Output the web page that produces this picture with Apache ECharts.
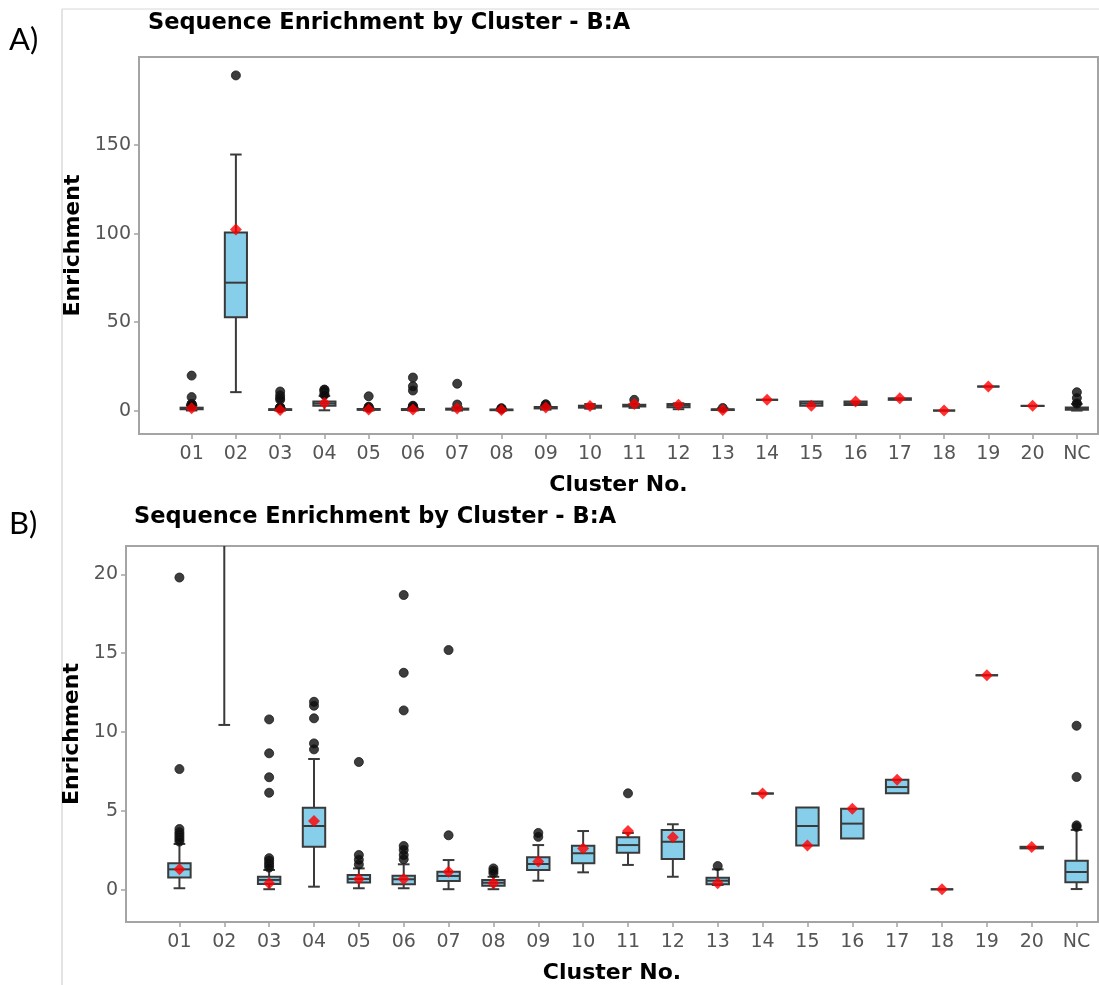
<!DOCTYPE html>
<html><head><meta charset="utf-8">
<script src="https://cdn.jsdelivr.net/npm/echarts@6/dist/echarts.min.js"></script>
<style>html,body{margin:0;padding:0;background:#fff}#c{width:1099px;height:985px}</style>
</head><body><div id="c"></div>
<script>
// ---- data ----
const categories = ['01','02','03','04','05','06','07','08','09','10','11','12','13','14','15','16','17','18','19','20','NC'];
const whiskerLow  = [0.09, 10.45, 0.03, 0.19, 0.09, 0.09, 0.03, 0.03, 0.57, 1.10, 1.57, 0.82, 0.30, 6.10, 2.81, 3.24, 6.11, 0.02, 13.6, 2.62, 0.04];
const q1          = [0.78, 52.8, 0.36, 2.73, 0.45, 0.34, 0.55, 0.25, 1.25, 1.67, 2.35, 1.95, 0.34, 6.10, 2.81, 3.24, 6.11, 0.02, 13.6, 2.62, 0.47];
const median      = [1.29, 72.3, 0.62, 4.04, 0.68, 0.66, 0.87, 0.44, 1.63, 2.31, 2.83, 3.04, 0.57, 6.10, 4.04, 4.19, 6.51, 0.02, 13.6, 2.66, 1.12];
const q3          = [1.67, 100.7, 0.82, 5.20, 0.93, 0.89, 1.14, 0.62, 2.05, 2.79, 3.32, 3.79, 0.76, 6.10, 5.22, 5.14, 6.98, 0.02, 13.6, 2.72, 1.84];
const whiskerHigh = [2.90, 144.7, 1.25, 8.29, 1.35, 1.61, 1.88, 0.82, 2.83, 3.72, 3.60, 4.15, 1.29, 6.10, 5.22, 5.14, 6.98, 0.02, 13.6, 2.72, 3.79];
const means       = [1.30, 102.3, 0.41, 4.36, 0.68, 0.68, 1.14, 0.41, 1.78, 2.62, 3.72, 3.32, 0.41, 6.10, 2.81, 5.14, 6.98, 0.02, 13.6, 2.70, null];
const outliers = [
  [19.8, 7.65, 3.85, 3.65, 3.5, 3.35, 3.2, 3.05],
  [189.4],
  [10.8, 8.65, 7.13, 6.15, 2.0, 1.85, 1.7, 1.55, 1.4],
  [11.92, 11.67, 10.87, 9.28, 8.9],
  [8.1, 2.2, 1.9, 1.6],
  [18.69, 13.76, 11.37, 2.77, 2.52, 2.2, 1.93],
  [15.2, 3.45],
  [1.35, 1.2, 1.05],
  [3.6, 3.35],
  [],
  [6.11],
  [],
  [1.5],
  [], [], [], [], [], [], [],
  [10.4, 7.15, 4.08, 3.98]
];
const yTicksA = [0, 50, 100, 150];
const yTicksB = [0, 5, 10, 15, 20];
const titleText = 'Sequence Enrichment by Cluster - B:A';
const xName = 'Cluster No.';
const yName = 'Enrichment';

// ---- build ----
const FONT = 'DejaVu Sans';
const FRAME = '#a4a4a4';
const INK = '#3a3a3a';

const boxData = categories.map((c, i) => [i, whiskerLow[i], q1[i], median[i], q3[i], whiskerHigh[i]]);
const outlierData = [];
outliers.forEach((arr, i) => arr.forEach(v => outlierData.push([i, v])));
const meanData = [];
means.forEach((m, i) => { if (m != null) meanData.push([i, m]); });

function renderBox(params, api) {
  const i = api.value(0);
  const lo = api.value(1), a = api.value(2), md = api.value(3), b = api.value(4), hi = api.value(5);
  const band = api.size([1, 0])[0];
  const half = band * 0.25, capHalf = band * 0.13;
  const pLo = api.coord([i, lo]), pA = api.coord([i, a]), pM = api.coord([i, md]), pB = api.coord([i, b]), pHi = api.coord([i, hi]);
  const x = pM[0];
  const ls = {stroke: INK, lineWidth: 2, fill: null};
  const ch = [];
  if (hi > b) {
    ch.push({type: 'line', shape: {x1: x, y1: pB[1], x2: x, y2: pHi[1]}, style: ls});
    ch.push({type: 'line', shape: {x1: x - capHalf, y1: pHi[1], x2: x + capHalf, y2: pHi[1]}, style: ls});
  }
  if (lo < a) {
    ch.push({type: 'line', shape: {x1: x, y1: pA[1], x2: x, y2: pLo[1]}, style: ls});
    ch.push({type: 'line', shape: {x1: x - capHalf, y1: pLo[1], x2: x + capHalf, y2: pLo[1]}, style: ls});
  }
  ch.push({type: 'rect', shape: {x: x - half, y: pB[1], width: 2 * half, height: pA[1] - pB[1]},
           style: {fill: '#87ceeb', stroke: INK, lineWidth: 2}});
  ch.push({type: 'line', shape: {x1: x - half, y1: pM[1], x2: x + half, y2: pM[1]}, style: ls});
  return {type: 'group', children: ch};
}

function panel(frameIdx, frameBox, dataLeft, yMin, yMax, yTicks, yNameGap) {
  const dataIdx = frameIdx + 1;
  const grids = [
    {left: frameBox.left, top: frameBox.top, width: frameBox.width, height: frameBox.height,
     show: true, borderColor: FRAME, borderWidth: 2, backgroundColor: 'transparent'},
    {left: dataLeft, top: frameBox.top, width: 1099 - dataLeft, height: frameBox.height}
  ];
  const xAxes = [
    {type: 'value', gridIndex: frameIdx, min: 0, max: 1, axisLine: {show: false, onZero: false}, axisTick: {show: false},
     axisLabel: {show: false}, splitLine: {show: false},
     name: xName, nameLocation: 'middle', nameGap: 40,
     nameTextStyle: {fontFamily: FONT, fontWeight: 'bold', fontSize: 22, color: '#000'}},
    {type: 'category', gridIndex: dataIdx, data: categories, boundaryGap: true,
     axisLine: {show: false, onZero: false}, splitLine: {show: false},
     axisTick: {show: true, alignWithLabel: true, length: 5, lineStyle: {color: FRAME, width: 1.5}},
     axisLabel: {fontFamily: FONT, fontSize: 19, color: '#555', margin: 11, interval: 0}}
  ];
  const yAxes = [
    {type: 'value', gridIndex: frameIdx, min: yMin, max: yMax, splitLine: {show: false},
     axisLine: {show: false, onZero: false},
     axisTick: {show: true, length: 5, lineStyle: {color: FRAME, width: 1.5}, customValues: yTicks},
     axisLabel: {fontFamily: FONT, fontSize: 19, color: '#555', margin: 8, customValues: yTicks},
     name: yName, nameLocation: 'middle', nameGap: yNameGap, nameRotate: 90,
     nameTextStyle: {fontFamily: FONT, fontWeight: 'bold', fontSize: 22, color: '#000'}},
    {type: 'value', gridIndex: dataIdx, min: yMin, max: yMax, show: false, splitLine: {show: false}}
  ];
  const series = [
    {type: 'custom', xAxisIndex: dataIdx, yAxisIndex: dataIdx, clip: true, silent: true,
     renderItem: renderBox, data: boxData, encode: {x: 0, y: [1, 2, 3, 4, 5]}, z: 2},
    {type: 'scatter', xAxisIndex: dataIdx, yAxisIndex: dataIdx, clip: true, silent: true,
     symbol: 'circle', symbolSize: 9, data: outlierData,
     itemStyle: {color: '#0d0d0d', borderColor: '#1a1a1a', borderWidth: 1}, z: 3},
    {type: 'scatter', xAxisIndex: dataIdx, yAxisIndex: dataIdx, clip: true, silent: true,
     symbol: 'diamond', symbolSize: 12, data: meanData,
     itemStyle: {color: '#ff0000'}, z: 4}
  ];
  return {grids, xAxes, yAxes, series};
}

const A = panel(0, {left: 139, top: 57, width: 959, height: 377}, 169.5, -13.2, 199.8, yTicksA, 50);
const B = panel(2, {left: 126, top: 546, width: 972, height: 376}, 157, -2.05, 21.8, yTicksB, 36);

const chart = echarts.init(document.getElementById('c'), null, {renderer: 'canvas'});
chart.setOption({
  animation: false,
  backgroundColor: '#fff',
  title: [
    {text: titleText, left: 143, top: 7, textStyle: {fontFamily: FONT, fontWeight: 'bold', fontSize: 22.5, color: '#000'}},
    {text: titleText, left: 129, top: 501, textStyle: {fontFamily: FONT, fontWeight: 'bold', fontSize: 22.5, color: '#000'}}
  ],
  grid: A.grids.concat(B.grids),
  xAxis: A.xAxes.concat(B.xAxes),
  yAxis: A.yAxes.concat(B.yAxes),
  series: A.series.concat(B.series),
  graphic: [
    {type: 'line', shape: {x1: 62, y1: 9, x2: 62, y2: 985}, style: {stroke: '#c8c8c8', lineWidth: 1}, silent: true},
    {type: 'line', shape: {x1: 62, y1: 9, x2: 1099, y2: 9}, style: {stroke: '#d8d8d8', lineWidth: 1}, silent: true},
    {type: 'text', left: 9, top: 24, style: {text: 'A)', font: '31px Lato', fill: '#000'}, silent: true},
    {type: 'text', left: 9, top: 508, style: {text: 'B)', font: '31px Lato', fill: '#000'}, silent: true}
  ]
});
</script>
</body></html>
